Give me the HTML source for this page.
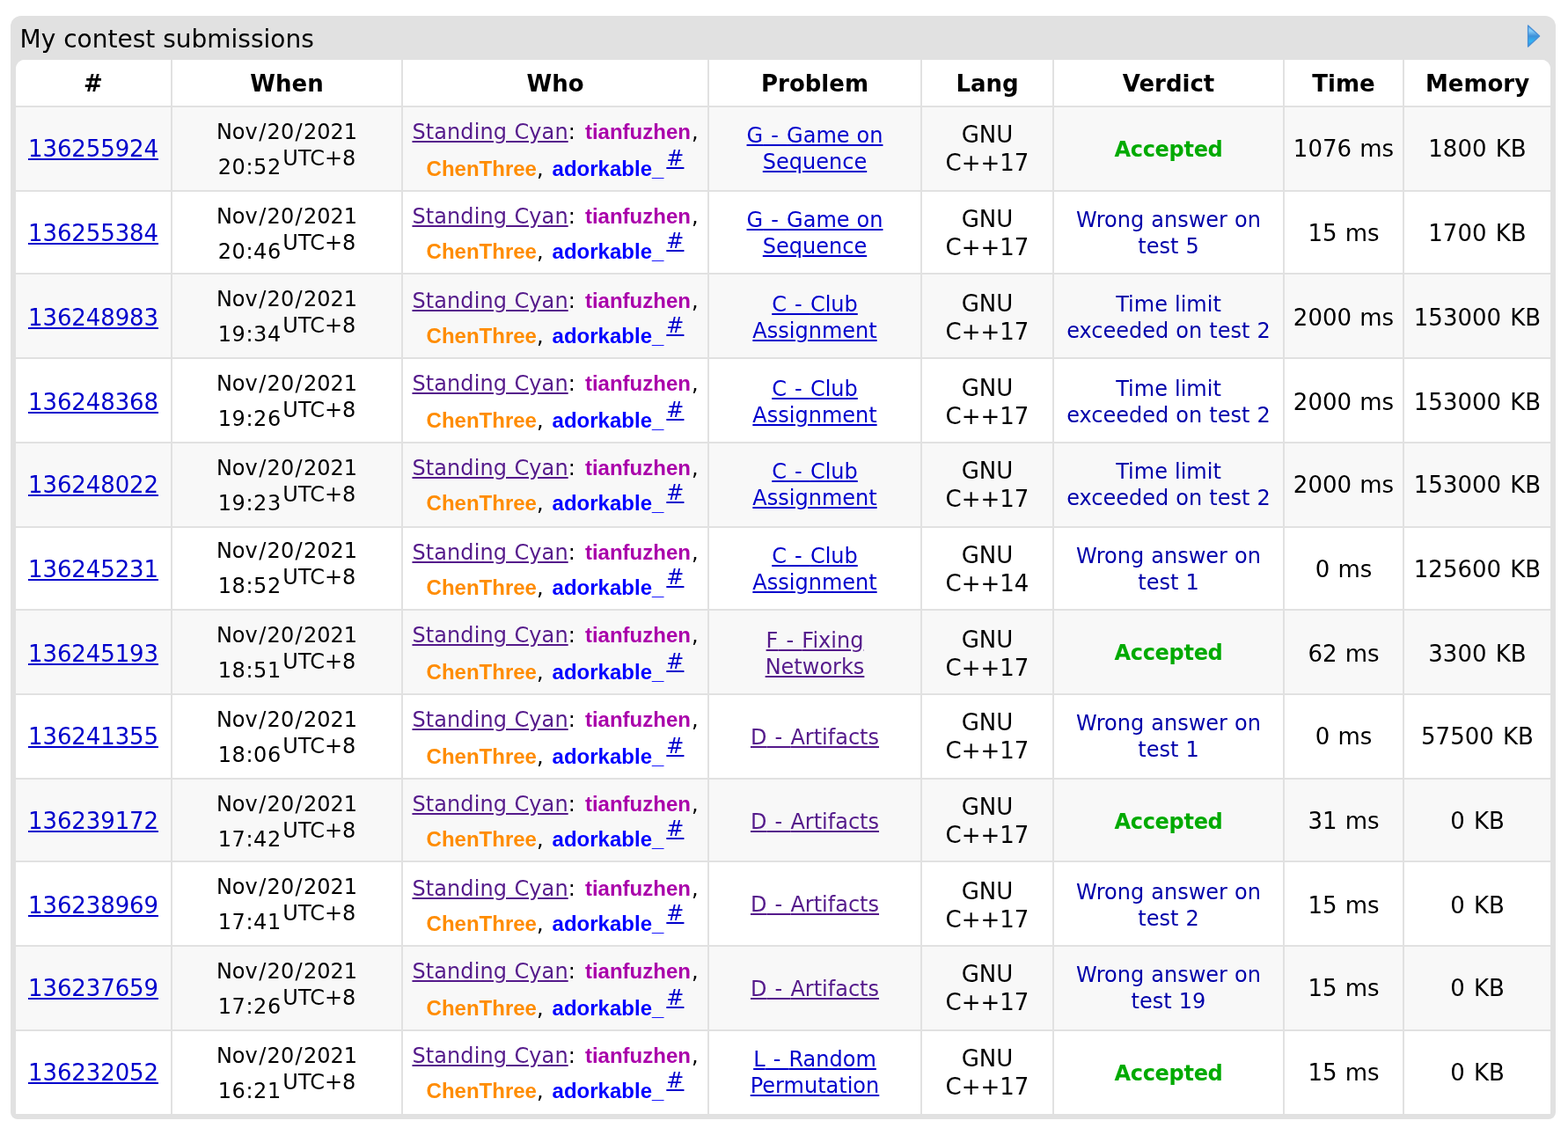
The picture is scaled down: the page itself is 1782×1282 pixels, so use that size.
<!DOCTYPE html>
<html lang="en">
<head>
<meta charset="utf-8">
<title>My contest submissions</title>
<style>
html,body{margin:0;padding:0;background:#fff;}
body{width:1782px;height:1282px;overflow:hidden;position:relative;font-family:"DejaVu Sans","Liberation Sans",sans-serif;color:#000;}
.datatable{position:absolute;left:12px;top:18px;width:1756px;height:1254px;background:#e1e1e1;border-radius:12px 12px 8px 8px;}
.title{position:absolute;left:10.6px;top:9px;font-size:28px;line-height:36px;white-space:nowrap;}
.arrow{position:absolute;left:1721px;top:7px;}
.inner{position:absolute;left:6px;top:50px;width:1744px;height:1198px;background:#fff;border-radius:10px 10px 0 0;overflow:hidden;}
table.status{border-collapse:separate;border-spacing:0;table-layout:fixed;width:1744px;}
col.c1{width:176px}col.c2{width:262px}col.c3{width:348px}col.c4{width:242px}col.c5{width:150px}col.c6{width:262px}col.c7{width:136px}col.c8{width:168px}
th,td{padding:0;margin:0;box-sizing:border-box;text-align:center;vertical-align:top;position:relative;border-left:2px solid #e1e1e1;font-weight:normal;}
th:first-child,td:first-child{border-left:none;}
tr.head{height:52px;}
th{font-weight:bold;font-size:26px;line-height:50px;padding-top:2px;background:#fff;}
td{border-top:2px solid #e1e1e1;font-size:24px;white-space:nowrap;word-spacing:.8px;}
tr.dark td{background:#f8f8f8;}
tr.light td{background:#fff;}
a{color:#0000cc;text-decoration:underline;}
.w{position:absolute;left:0;right:0;}
td.id{font-size:26px;line-height:32px;letter-spacing:-.1px;}
td.when{line-height:40px;}
.sl{padding:0 1.4px;}
.tm{letter-spacing:.6px;}
td.when sup{font-size:24px;vertical-align:10px;line-height:0;letter-spacing:0;margin-left:1.5px;}
td.who{line-height:40px;}
td.who sup{font-size:24px;vertical-align:12px;line-height:0;margin-left:3px;}
.p1{word-spacing:3.5px;}
.p2{margin-left:1px;}
.p3{word-spacing:2.4px;}
a.team{letter-spacing:.08px;}
a.team{color:#551a8b;}
a.h{font-family:"Liberation Sans",sans-serif;font-weight:bold;text-decoration:none;}
a.violet{color:#aa00aa;}
a.orange{color:#ff8c00;}
a.blue{color:#0000ff;}
td.prob{line-height:30px;word-spacing:.4px;}
.hy{word-spacing:1.5px;}
a.visited{color:#551a8b;}
td.lang{font-size:26px;line-height:32px;}
td.verdict{line-height:30px;word-spacing:.5px;}
.ok{color:#00aa00;font-weight:bold;letter-spacing:-.3px;}
.wa{color:#0000aa;}
td.time,td.mem{font-size:26px;line-height:32px;}
td.time{word-spacing:1px;}
td.mem{word-spacing:2px;}

</style>
</head>
<body>
<div class="datatable">
<div class="title">My contest submissions</div>
<svg class="arrow" width="20" height="32" viewBox="0 0 20 32"><defs><linearGradient id="ag" x1="0" y1="0" x2="0" y2="1"><stop offset="0" stop-color="#6fb9f0"/><stop offset="0.25" stop-color="#86cffa"/><stop offset="0.5" stop-color="#3f90d8"/><stop offset="0.75" stop-color="#2fb4f5"/><stop offset="1" stop-color="#3a8ad6"/></linearGradient><filter id="ab" x="-20%" y="-20%" width="140%" height="140%"><feGaussianBlur stdDeviation="0.6"/></filter></defs><path d="M3.6 4 L16.6 16 L3.6 28 Z" fill="url(#ag)" stroke="#4a8fd6" stroke-width="1.4" stroke-linejoin="round" filter="url(#ab)"/></svg>
<div class="inner">
<table class="status">
<colgroup><col class="c1"><col class="c2"><col class="c3"><col class="c4"><col class="c5"><col class="c6"><col class="c7"><col class="c8"></colgroup>
<thead>
<tr class="head"><th>#</th><th>When</th><th>Who</th><th>Problem</th><th>Lang</th><th>Verdict</th><th>Time</th><th>Memory</th></tr>
</thead>
<tbody>
<tr class="dark" style="height:96px">
<td class="id"><div class="w" style="top:31px"><a href="#">136255924</a></div></td>
<td class="when"><div class="w" style="top:8px">Nov<span class="sl">/</span>20<span class="sl">/</span>2021<br><span class="tm">20:52</span><sup>UTC+8</sup></div></td>
<td class="who"><div class="w" style="top:8px"><a class="team" href="#">Standing Cyan</a><span class="p1">: </span><a class="h violet" href="#">tianfuzhen</a><span class="p2">,</span></div><div class="w" style="top:50px"><a class="h orange" href="#">ChenThree</a><span class="p3">, </span><a class="h blue" href="#">adorkable_</a><sup><a href="#">#</a></sup></div></td>
<td class="prob"><div class="w" style="top:17px"><a class="link" href="#">G<span class="hy"> - </span>Game on<br>Sequence</a></div></td>
<td class="lang"><div class="w" style="top:15px">GNU<br>C++17</div></td>
<td class="verdict"><div class="w" style="top:33px"><span class="ok">Accepted</span></div></td>
<td class="time"><div class="w" style="top:31px">1076 ms</div></td>
<td class="mem"><div class="w" style="top:31px">1800 KB</div></td>
</tr>
<tr class="light" style="height:94px">
<td class="id"><div class="w" style="top:31px"><a href="#">136255384</a></div></td>
<td class="when"><div class="w" style="top:8px">Nov<span class="sl">/</span>20<span class="sl">/</span>2021<br><span class="tm">20:46</span><sup>UTC+8</sup></div></td>
<td class="who"><div class="w" style="top:8px"><a class="team" href="#">Standing Cyan</a><span class="p1">: </span><a class="h violet" href="#">tianfuzhen</a><span class="p2">,</span></div><div class="w" style="top:48px"><a class="h orange" href="#">ChenThree</a><span class="p3">, </span><a class="h blue" href="#">adorkable_</a><sup><a href="#">#</a></sup></div></td>
<td class="prob"><div class="w" style="top:17px"><a class="link" href="#">G<span class="hy"> - </span>Game on<br>Sequence</a></div></td>
<td class="lang"><div class="w" style="top:15px">GNU<br>C++17</div></td>
<td class="verdict"><div class="w" style="top:17px"><span class="wa">Wrong answer on<br>test 5</span></div></td>
<td class="time"><div class="w" style="top:31px">15 ms</div></td>
<td class="mem"><div class="w" style="top:31px">1700 KB</div></td>
</tr>
<tr class="dark" style="height:96px">
<td class="id"><div class="w" style="top:33px"><a href="#">136248983</a></div></td>
<td class="when"><div class="w" style="top:8px">Nov<span class="sl">/</span>20<span class="sl">/</span>2021<br><span class="tm">19:34</span><sup>UTC+8</sup></div></td>
<td class="who"><div class="w" style="top:10px"><a class="team" href="#">Standing Cyan</a><span class="p1">: </span><a class="h violet" href="#">tianfuzhen</a><span class="p2">,</span></div><div class="w" style="top:50px"><a class="h orange" href="#">ChenThree</a><span class="p3">, </span><a class="h blue" href="#">adorkable_</a><sup><a href="#">#</a></sup></div></td>
<td class="prob"><div class="w" style="top:19px"><a class="link" href="#">C<span class="hy"> - </span>Club<br>Assignment</a></div></td>
<td class="lang"><div class="w" style="top:17px">GNU<br>C++17</div></td>
<td class="verdict"><div class="w" style="top:19px"><span class="wa">Time limit<br>exceeded on test 2</span></div></td>
<td class="time"><div class="w" style="top:33px">2000 ms</div></td>
<td class="mem"><div class="w" style="top:33px">153000 KB</div></td>
</tr>
<tr class="light" style="height:96px">
<td class="id"><div class="w" style="top:33px"><a href="#">136248368</a></div></td>
<td class="when"><div class="w" style="top:8px">Nov<span class="sl">/</span>20<span class="sl">/</span>2021<br><span class="tm">19:26</span><sup>UTC+8</sup></div></td>
<td class="who"><div class="w" style="top:8px"><a class="team" href="#">Standing Cyan</a><span class="p1">: </span><a class="h violet" href="#">tianfuzhen</a><span class="p2">,</span></div><div class="w" style="top:50px"><a class="h orange" href="#">ChenThree</a><span class="p3">, </span><a class="h blue" href="#">adorkable_</a><sup><a href="#">#</a></sup></div></td>
<td class="prob"><div class="w" style="top:19px"><a class="link" href="#">C<span class="hy"> - </span>Club<br>Assignment</a></div></td>
<td class="lang"><div class="w" style="top:17px">GNU<br>C++17</div></td>
<td class="verdict"><div class="w" style="top:19px"><span class="wa">Time limit<br>exceeded on test 2</span></div></td>
<td class="time"><div class="w" style="top:33px">2000 ms</div></td>
<td class="mem"><div class="w" style="top:33px">153000 KB</div></td>
</tr>
<tr class="dark" style="height:96px">
<td class="id"><div class="w" style="top:31px"><a href="#">136248022</a></div></td>
<td class="when"><div class="w" style="top:8px">Nov<span class="sl">/</span>20<span class="sl">/</span>2021<br><span class="tm">19:23</span><sup>UTC+8</sup></div></td>
<td class="who"><div class="w" style="top:8px"><a class="team" href="#">Standing Cyan</a><span class="p1">: </span><a class="h violet" href="#">tianfuzhen</a><span class="p2">,</span></div><div class="w" style="top:48px"><a class="h orange" href="#">ChenThree</a><span class="p3">, </span><a class="h blue" href="#">adorkable_</a><sup><a href="#">#</a></sup></div></td>
<td class="prob"><div class="w" style="top:17px"><a class="link" href="#">C<span class="hy"> - </span>Club<br>Assignment</a></div></td>
<td class="lang"><div class="w" style="top:15px">GNU<br>C++17</div></td>
<td class="verdict"><div class="w" style="top:17px"><span class="wa">Time limit<br>exceeded on test 2</span></div></td>
<td class="time"><div class="w" style="top:31px">2000 ms</div></td>
<td class="mem"><div class="w" style="top:31px">153000 KB</div></td>
</tr>
<tr class="light" style="height:94px">
<td class="id"><div class="w" style="top:31px"><a href="#">136245231</a></div></td>
<td class="when"><div class="w" style="top:6px">Nov<span class="sl">/</span>20<span class="sl">/</span>2021<br><span class="tm">18:52</span><sup>UTC+8</sup></div></td>
<td class="who"><div class="w" style="top:8px"><a class="team" href="#">Standing Cyan</a><span class="p1">: </span><a class="h violet" href="#">tianfuzhen</a><span class="p2">,</span></div><div class="w" style="top:48px"><a class="h orange" href="#">ChenThree</a><span class="p3">, </span><a class="h blue" href="#">adorkable_</a><sup><a href="#">#</a></sup></div></td>
<td class="prob"><div class="w" style="top:17px"><a class="link" href="#">C<span class="hy"> - </span>Club<br>Assignment</a></div></td>
<td class="lang"><div class="w" style="top:15px">GNU<br>C++14</div></td>
<td class="verdict"><div class="w" style="top:17px"><span class="wa">Wrong answer on<br>test 1</span></div></td>
<td class="time"><div class="w" style="top:31px">0 ms</div></td>
<td class="mem"><div class="w" style="top:31px">125600 KB</div></td>
</tr>
<tr class="dark" style="height:96px">
<td class="id"><div class="w" style="top:33px"><a href="#">136245193</a></div></td>
<td class="when"><div class="w" style="top:8px">Nov<span class="sl">/</span>20<span class="sl">/</span>2021<br><span class="tm">18:51</span><sup>UTC+8</sup></div></td>
<td class="who"><div class="w" style="top:8px"><a class="team" href="#">Standing Cyan</a><span class="p1">: </span><a class="h violet" href="#">tianfuzhen</a><span class="p2">,</span></div><div class="w" style="top:50px"><a class="h orange" href="#">ChenThree</a><span class="p3">, </span><a class="h blue" href="#">adorkable_</a><sup><a href="#">#</a></sup></div></td>
<td class="prob"><div class="w" style="top:19px"><a class="visited" href="#">F<span class="hy"> - </span>Fixing<br>Networks</a></div></td>
<td class="lang"><div class="w" style="top:17px">GNU<br>C++17</div></td>
<td class="verdict"><div class="w" style="top:33px"><span class="ok">Accepted</span></div></td>
<td class="time"><div class="w" style="top:33px">62 ms</div></td>
<td class="mem"><div class="w" style="top:33px">3300 KB</div></td>
</tr>
<tr class="light" style="height:96px">
<td class="id"><div class="w" style="top:31px"><a href="#">136241355</a></div></td>
<td class="when"><div class="w" style="top:8px">Nov<span class="sl">/</span>20<span class="sl">/</span>2021<br><span class="tm">18:06</span><sup>UTC+8</sup></div></td>
<td class="who"><div class="w" style="top:8px"><a class="team" href="#">Standing Cyan</a><span class="p1">: </span><a class="h violet" href="#">tianfuzhen</a><span class="p2">,</span></div><div class="w" style="top:50px"><a class="h orange" href="#">ChenThree</a><span class="p3">, </span><a class="h blue" href="#">adorkable_</a><sup><a href="#">#</a></sup></div></td>
<td class="prob"><div class="w" style="top:33px"><a class="visited" href="#">D<span class="hy"> - </span>Artifacts</a></div></td>
<td class="lang"><div class="w" style="top:15px">GNU<br>C++17</div></td>
<td class="verdict"><div class="w" style="top:17px"><span class="wa">Wrong answer on<br>test 1</span></div></td>
<td class="time"><div class="w" style="top:31px">0 ms</div></td>
<td class="mem"><div class="w" style="top:31px">57500 KB</div></td>
</tr>
<tr class="dark" style="height:94px">
<td class="id"><div class="w" style="top:31px"><a href="#">136239172</a></div></td>
<td class="when"><div class="w" style="top:8px">Nov<span class="sl">/</span>20<span class="sl">/</span>2021<br><span class="tm">17:42</span><sup>UTC+8</sup></div></td>
<td class="who"><div class="w" style="top:8px"><a class="team" href="#">Standing Cyan</a><span class="p1">: </span><a class="h violet" href="#">tianfuzhen</a><span class="p2">,</span></div><div class="w" style="top:48px"><a class="h orange" href="#">ChenThree</a><span class="p3">, </span><a class="h blue" href="#">adorkable_</a><sup><a href="#">#</a></sup></div></td>
<td class="prob"><div class="w" style="top:33px"><a class="visited" href="#">D<span class="hy"> - </span>Artifacts</a></div></td>
<td class="lang"><div class="w" style="top:15px">GNU<br>C++17</div></td>
<td class="verdict"><div class="w" style="top:33px"><span class="ok">Accepted</span></div></td>
<td class="time"><div class="w" style="top:31px">31 ms</div></td>
<td class="mem"><div class="w" style="top:31px">0 KB</div></td>
</tr>
<tr class="light" style="height:96px">
<td class="id"><div class="w" style="top:33px"><a href="#">136238969</a></div></td>
<td class="when"><div class="w" style="top:8px">Nov<span class="sl">/</span>20<span class="sl">/</span>2021<br><span class="tm">17:41</span><sup>UTC+8</sup></div></td>
<td class="who"><div class="w" style="top:10px"><a class="team" href="#">Standing Cyan</a><span class="p1">: </span><a class="h violet" href="#">tianfuzhen</a><span class="p2">,</span></div><div class="w" style="top:50px"><a class="h orange" href="#">ChenThree</a><span class="p3">, </span><a class="h blue" href="#">adorkable_</a><sup><a href="#">#</a></sup></div></td>
<td class="prob"><div class="w" style="top:33px"><a class="visited" href="#">D<span class="hy"> - </span>Artifacts</a></div></td>
<td class="lang"><div class="w" style="top:17px">GNU<br>C++17</div></td>
<td class="verdict"><div class="w" style="top:19px"><span class="wa">Wrong answer on<br>test 2</span></div></td>
<td class="time"><div class="w" style="top:33px">15 ms</div></td>
<td class="mem"><div class="w" style="top:33px">0 KB</div></td>
</tr>
<tr class="dark" style="height:96px">
<td class="id"><div class="w" style="top:31px"><a href="#">136237659</a></div></td>
<td class="when"><div class="w" style="top:8px">Nov<span class="sl">/</span>20<span class="sl">/</span>2021<br><span class="tm">17:26</span><sup>UTC+8</sup></div></td>
<td class="who"><div class="w" style="top:8px"><a class="team" href="#">Standing Cyan</a><span class="p1">: </span><a class="h violet" href="#">tianfuzhen</a><span class="p2">,</span></div><div class="w" style="top:50px"><a class="h orange" href="#">ChenThree</a><span class="p3">, </span><a class="h blue" href="#">adorkable_</a><sup><a href="#">#</a></sup></div></td>
<td class="prob"><div class="w" style="top:33px"><a class="visited" href="#">D<span class="hy"> - </span>Artifacts</a></div></td>
<td class="lang"><div class="w" style="top:15px">GNU<br>C++17</div></td>
<td class="verdict"><div class="w" style="top:17px"><span class="wa">Wrong answer on<br>test 19</span></div></td>
<td class="time"><div class="w" style="top:31px">15 ms</div></td>
<td class="mem"><div class="w" style="top:31px">0 KB</div></td>
</tr>
<tr class="light" style="height:96px">
<td class="id"><div class="w" style="top:31px"><a href="#">136232052</a></div></td>
<td class="when"><div class="w" style="top:8px">Nov<span class="sl">/</span>20<span class="sl">/</span>2021<br><span class="tm">16:21</span><sup>UTC+8</sup></div></td>
<td class="who"><div class="w" style="top:8px"><a class="team" href="#">Standing Cyan</a><span class="p1">: </span><a class="h violet" href="#">tianfuzhen</a><span class="p2">,</span></div><div class="w" style="top:48px"><a class="h orange" href="#">ChenThree</a><span class="p3">, </span><a class="h blue" href="#">adorkable_</a><sup><a href="#">#</a></sup></div></td>
<td class="prob"><div class="w" style="top:17px"><a class="link" href="#">L<span class="hy"> - </span>Random<br>Permutation</a></div></td>
<td class="lang"><div class="w" style="top:15px">GNU<br>C++17</div></td>
<td class="verdict"><div class="w" style="top:33px"><span class="ok">Accepted</span></div></td>
<td class="time"><div class="w" style="top:31px">15 ms</div></td>
<td class="mem"><div class="w" style="top:31px">0 KB</div></td>
</tr>
</tbody>
</table>
</div>
</div>
</body>
</html>
